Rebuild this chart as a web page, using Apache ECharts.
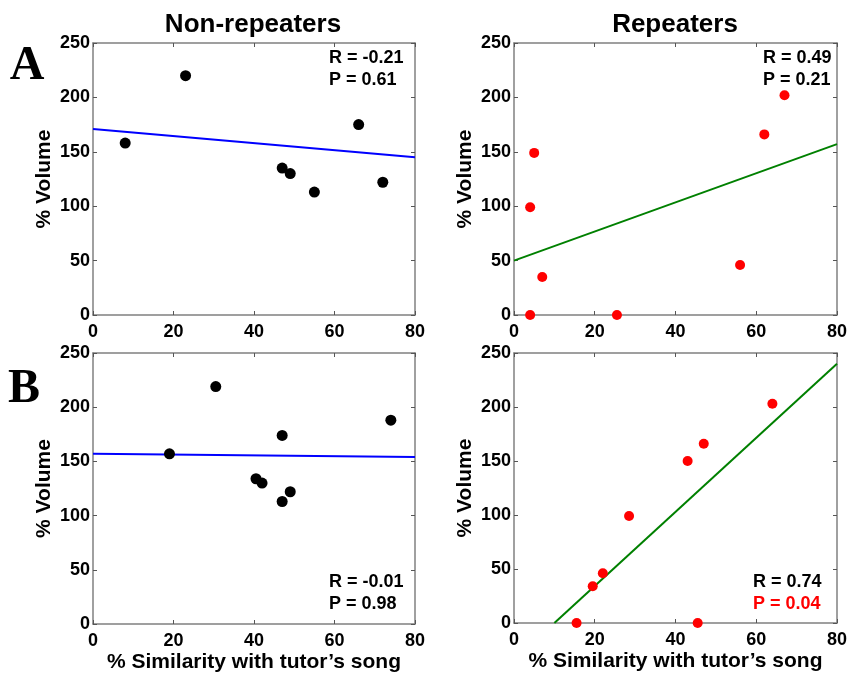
<!DOCTYPE html>
<html>
<head>
<meta charset="utf-8">
<script src="https://cdn.jsdelivr.net/npm/echarts@6/dist/echarts.min.js"></script>
<style>
  html, body { margin: 0; padding: 0; background: #fff; }
  #main { width: 850px; height: 674px; }
</style>
</head>
<body>
<div id="main"></div>
<script>
// data: [similarity %, volume %]
const nonRepA = [[8, 158], [23, 220], [47, 135], [49, 130], [55, 113], [66, 175], [72, 122]];
const repA = [[4, 0], [5, 149], [4, 99], [7, 35], [25.5, 0], [56, 46], [62, 166], [67, 202]];
const nonRepB = [[19, 157], [30.5, 219], [40.5, 134], [42, 130], [47, 174], [47, 113], [49, 122], [74, 188]];
const repB = [[15.5, 0], [45.5, 0], [19.5, 34], [22, 46], [28.5, 99], [43, 150], [47, 166], [64, 203]];

// regression line end points
const fitNonRepA = [[0, 171], [80, 145]];
const fitRepA = [[0, 50], [80, 157]];
const fitNonRepB = [[0, 157], [80, 154]];
const fitRepB = [[10, 0], [80, 240]];

const stats = [
  { r: 'R = -0.21', p: 'P = 0.61' },
  { r: 'R = 0.49', p: 'P = 0.21' },
  { r: 'R = -0.01', p: 'P = 0.98' },
  { r: 'R = 0.74', p: 'P = 0.04' }
];

const xTicks = [0, 20, 40, 60, 80];
const yTicks = [0, 50, 100, 150, 200, 250];

const FONT = 'Liberation Sans';
const grids = [
  { left: 93, top: 43, width: 322, height: 272 },
  { left: 514, top: 43, width: 325, height: 272 },
  { left: 93, top: 353, width: 322, height: 271 },
  { left: 514, top: 353, width: 325, height: 270 }
];

const tickStyle = { inside: true, length: 4, lineStyle: { color: '#555' } };
const lineStyle = { show: true, onZero: false, lineStyle: { color: '#808080', width: 1.5 } };
const labelStyle = { color: '#000', fontFamily: FONT, fontWeight: 'bold', fontSize: 18 };
const nameStyle = { color: '#000', fontFamily: FONT, fontWeight: 'bold', fontSize: 21 };

const xAxis = [];
const yAxis = [];
grids.forEach((g, i) => {
  const bottomRow = i >= 2;
  xAxis.push({
    gridIndex: i, type: 'value', min: xTicks[0], max: xTicks[xTicks.length - 1], interval: 20,
    position: 'bottom', splitLine: { show: false },
    axisLine: lineStyle, axisTick: tickStyle,
    axisLabel: Object.assign({ margin: 8 }, labelStyle),
    name: bottomRow ? '% Similarity with tutor\u2019s song' : '',
    nameLocation: 'middle', nameGap: 28, nameTextStyle: nameStyle
  });
  xAxis.push({
    gridIndex: i, type: 'value', min: 0, max: 80, interval: 20, position: 'top',
    splitLine: { show: false }, axisLine: lineStyle, axisTick: tickStyle, axisLabel: { show: false }
  });
  yAxis.push({
    gridIndex: i, type: 'value', min: yTicks[0], max: yTicks[yTicks.length - 1], interval: 50,
    position: 'left', splitLine: { show: false },
    axisLine: lineStyle, axisTick: tickStyle,
    axisLabel: Object.assign({ margin: 3 }, labelStyle),
    name: '% Volume', nameLocation: 'middle', nameGap: 38, nameTextStyle: nameStyle
  });
  yAxis.push({
    gridIndex: i, type: 'value', min: 0, max: 250, interval: 50, position: 'right',
    splitLine: { show: false }, axisLine: lineStyle, axisTick: tickStyle, axisLabel: { show: false }
  });
});

function scatter(i, data, color, size) {
  return {
    type: 'scatter', xAxisIndex: i * 2, yAxisIndex: i * 2, data: data,
    symbolSize: size, itemStyle: { color: color, opacity: 1 }, z: 3
  };
}
function fit(i, data, color) {
  return {
    type: 'line', xAxisIndex: i * 2, yAxisIndex: i * 2, data: data,
    showSymbol: false, lineStyle: { color: color, width: 2 }, z: 2
  };
}

const statPos = [
  { x: 329, y: 58 }, { x: 763, y: 58 }, { x: 329, y: 582 }, { x: 753, y: 582 }
];
const graphic = [
  { type: 'text', x: 253, y: 25, style: { text: 'Non-repeaters', fill: '#000', align: 'center', verticalAlign: 'middle', font: 'bold 26px "Liberation Sans"' } },
  { type: 'text', x: 675, y: 25, style: { text: 'Repeaters', fill: '#000', align: 'center', verticalAlign: 'middle', font: 'bold 26px "Liberation Sans"' } },
  { type: 'text', x: 27, y: 67, style: { text: 'A', fill: '#000', align: 'center', verticalAlign: 'middle', font: 'bold 48px "Liberation Serif"' } },
  { type: 'text', x: 24, y: 390, style: { text: 'B', fill: '#000', align: 'center', verticalAlign: 'middle', font: 'bold 48px "Liberation Serif"' } }
];
stats.forEach((s, i) => {
  graphic.push({ type: 'text', x: statPos[i].x, y: statPos[i].y,
    style: { text: s.r, fill: '#000', verticalAlign: 'middle', font: 'bold 18px "Liberation Sans"' } });
  graphic.push({ type: 'text', x: statPos[i].x, y: statPos[i].y + 22,
    style: { text: s.p, fill: i === 3 ? '#ff0000' : '#000', verticalAlign: 'middle', font: 'bold 18px "Liberation Sans"' } });
});

const chart = echarts.init(document.getElementById('main'));
chart.setOption({
  animation: false,
  backgroundColor: '#fff',
  grid: grids,
  xAxis: xAxis,
  yAxis: yAxis,
  graphic: graphic,
  series: [
    fit(0, fitNonRepA, '#0000ff'),
    scatter(0, nonRepA, '#000', 11),
    fit(1, fitRepA, '#008000'),
    scatter(1, repA, '#ff0000', 10),
    fit(2, fitNonRepB, '#0000ff'),
    scatter(2, nonRepB, '#000', 11),
    fit(3, fitRepB, '#008000'),
    scatter(3, repB, '#ff0000', 10)
  ]
});
</script>
</body>
</html>
